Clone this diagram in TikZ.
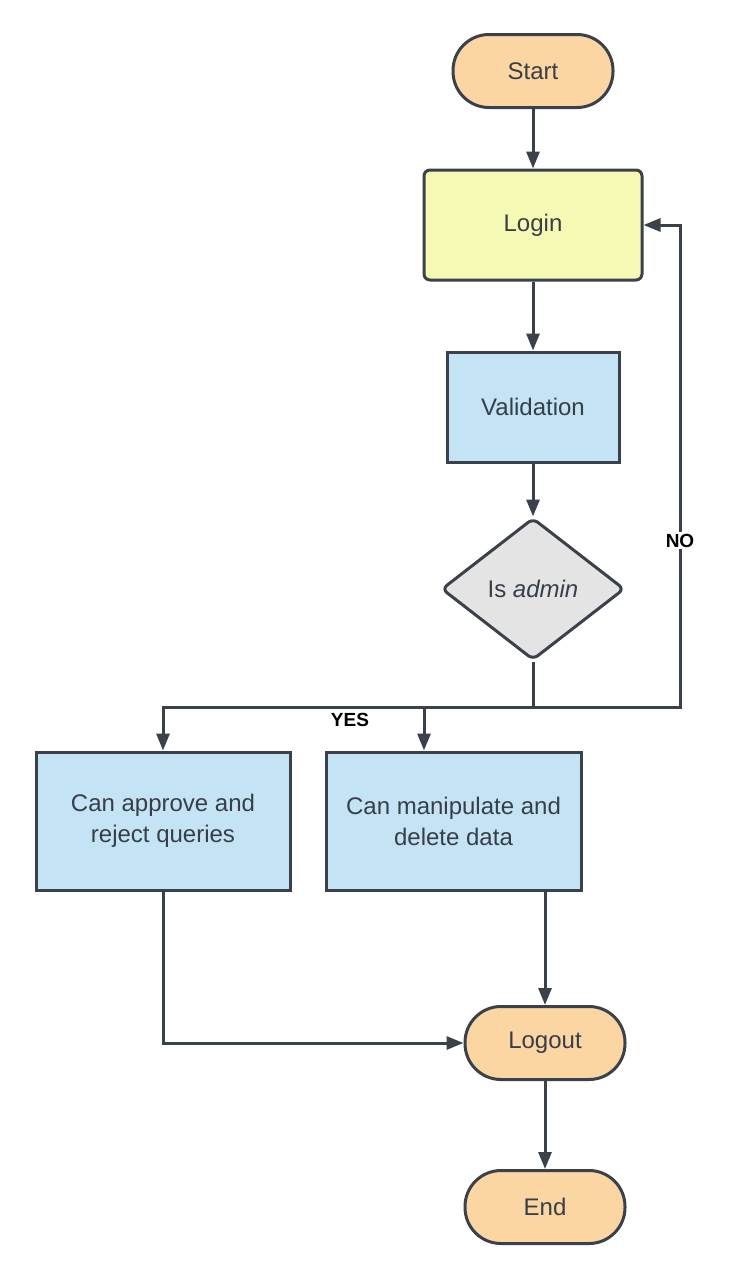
\documentclass[tikz,border=0pt]{standalone}
\usepackage{fontspec}
\setmainfont{Liberation Sans}
\usepackage{xcolor}
\usepackage{tikz}
\usetikzlibrary{arrows.meta}
\usetikzlibrary{positioning}
\usetikzlibrary{shapes.geometric}

\definecolor{edgecol}{RGB}{58,65,74}
\definecolor{txtcol}{RGB}{55,62,72}
\definecolor{termfill}{RGB}{251,214,163}
\definecolor{loginfill}{RGB}{245,249,180}
\definecolor{procfill}{RGB}{196,228,246}
\definecolor{decfill}{RGB}{228,228,228}

\begin{document}
\begin{tikzpicture}[
    x=1pt, y=-1pt,
    every node/.style={text=txtcol, font=\fontsize{24}{31}\selectfont},
    terminal/.style={rectangle, draw=edgecol, line width=3pt, fill=termfill,
        rounded corners=36pt, minimum width=160pt, minimum height=73pt, inner sep=0pt},
    loginbox/.style={rectangle, draw=edgecol, line width=3pt, fill=loginfill,
        rounded corners=6pt, minimum width=218pt, minimum height=110pt, inner sep=0pt},
    process/.style={rectangle, draw=edgecol, line width=3pt, fill=procfill,
        minimum width=172pt, minimum height=110pt, inner sep=0pt, align=center},
    decision/.style={diamond, draw=edgecol, line width=3pt, fill=decfill,
        rounded corners=6pt, minimum width=183pt, minimum height=142pt, inner sep=0pt},
    answer/.style={text=black, font=\fontsize{19}{22}\selectfont\bfseries},
    line/.style={draw=edgecol, line width=3pt},
    arrow/.style={line, -{Triangle[length=17pt, width=13pt]}},
]

\useasboundingbox (0,0) rectangle (732,1280);

% Inicio y login
\node[terminal] (start) at (533,71) {Start};
\node[loginbox] (login) at (533,225) {Login};

% Validacion y decision
\node[process] (valid) at (533,407) {Validation};
\node[decision] (admin) at (533,589) {Is \textit{admin}};

% Acciones del administrador
\node[process, minimum width=254pt, minimum height=138pt] (approve) at (163,821)
    {Can approve and\\reject queries};
\node[process, minimum width=255pt, minimum height=138pt] (manip) at (453.5,821)
    {Can manipulate and\\delete data};

% Salida
\node[terminal] (logout) at (545,1043) {Logout};
\node[terminal] (end) at (545,1207) {End};

% Puntos de bifurcacion
\coordinate (split) at (533,707);
\coordinate (yesL) at (163,707);
\coordinate (yesR) at (424,707);
\coordinate (noC) at (680,707);

% Conexiones principales
\draw[arrow] (start) -- (login);
\draw[arrow] (login) -- (valid);
\draw[arrow] (valid) -- (admin);
\draw[line] (admin) -- (split);

% Rama YES
\draw[arrow] (split) -- (yesL) -- (approve);
\draw[arrow] (yesR) -- (yesR |- manip.north);
\node[answer] (yes) at (350,720) {YES};

% Rama NO
\draw[arrow] (split) -- (noC) -- (noC |- login.east)
    node[answer, fill=white, inner sep=2pt, pos=0.345] (no) {NO} -- (login.east);

% Hacia logout y fin
\draw[arrow] (approve) |- (logout);
\draw[arrow] (manip.south -| logout) -- (logout);
\draw[arrow] (logout) -- (end);

\end{tikzpicture}
\end{document}
